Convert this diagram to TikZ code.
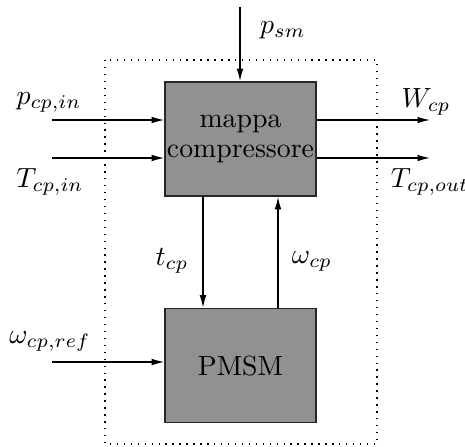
\documentclass[tikz,border=0pt]{standalone}
\usetikzlibrary{arrows.meta}
\begin{document}
\begin{tikzpicture}[x=0.36pt,y=-0.36pt,
  blk/.style={draw=black!85,line width=0.6pt,fill=black!43,minimum width=151*0.36pt,minimum height=114*0.36pt,inner sep=0pt,align=center,font=\normalsize},
  sig/.style={line width=0.45pt,-{Latex[length=4.5pt,width=2.4pt]}},
  lbl/.style={inner sep=0pt,font=\normalsize}]
\useasboundingbox (0,0) rectangle (465,446);
\draw[dotted,line width=0.5pt] (105,60) rectangle (377,444);
\node[blk] (map) at (240.5,139) {mappa\\[-1pt]compressore};
\node[blk] (pmsm) at (240.5,365.5) {PMSM};
\coordinate (top) at (240,7);
\coordinate (in1) at (52,120);
\coordinate (in2) at (52,158);
\coordinate (out1) at (430,120);
\coordinate (out2) at (430,158);
\coordinate (in3) at (52,362);
\draw[sig] (top) -- (top|-map.north);
\draw[sig] (in1) -- (in1-|map.west);
\draw[sig] (in2) -- (in2-|map.west);
\draw[sig] (out1-|map.east) -- (out1);
\draw[sig] (out2-|map.east) -- (out2);
\draw[sig] (in3) -- (in3-|pmsm.west);
\draw[sig] (map.south-|203,0) -- (pmsm.north-|203,0);
\draw[sig] (pmsm.north-|278,0) -- (map.south-|278,0);
\node[lbl] (lpsm) at (283,30) {$p_{sm}$};
\node[lbl] (lpin) at (49,102) {$p_{cp,in}$};
\node[lbl] (ltin) at (50,182) {$T_{cp,in}$};
\node[lbl] (lw) at (426,102) {$W_{cp}$};
\node[lbl] (ltout) at (430,182) {$T_{cp,out}$};
\node[lbl] (ltcp) at (172,261) {$t_{cp}$};
\node[lbl] (lwcp) at (312,261) {$\omega_{cp}$};
\node[lbl] (lwref) at (50,341) {$\omega_{cp,ref}$};
\end{tikzpicture}
\end{document}
